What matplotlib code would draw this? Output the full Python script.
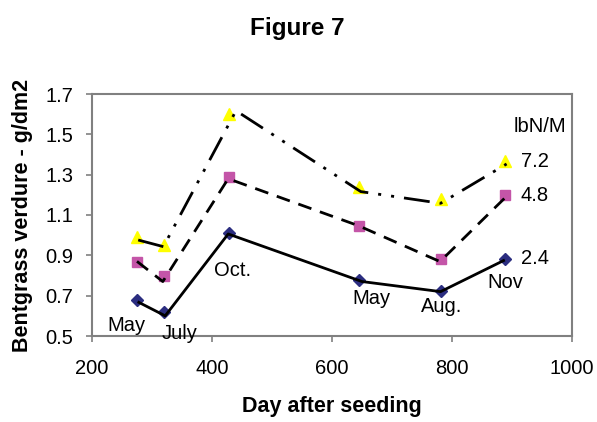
import matplotlib
matplotlib.use("Agg")
import matplotlib.pyplot as plt

plt.rcParams['font.family'] = ['Liberation Sans', 'DejaVu Sans']
plt.rcParams['lines.scale_dashes'] = False

# Observed values (markers)
days = [275, 320, 429, 645, 781, 889]
rate_24 = [0.68, 0.62, 1.01, 0.78, 0.725, 0.88]
rate_48 = [0.865, 0.80, 1.287, 1.047, 0.882, 1.20]
rate_72 = [0.99, 0.95, 1.60, 1.24, 1.178, 1.368]

# Connecting line series (drawn separately in the original)
line_days_24 = [276, 322, 427, 650, 781, 888]
line_24 = [0.67, 0.60, 1.006, 0.77, 0.72, 0.877]
line_days_48 = [275, 318, 427, 644, 780, 890]
line_48 = [0.87, 0.77, 1.28, 1.047, 0.869, 1.19]
line_days_72 = [277, 319, 440, 648, 781, 891]
line_72 = [0.976, 0.943, 1.617, 1.216, 1.158, 1.353]

month_labels = ["May", "July", "Oct.", "May", "Aug.", "Nov"]
month_pos = [(258, 0.55), (346, 0.514), (434, 0.827), (666, 0.687), (783, 0.645), (889, 0.766)]
series_labels = ["2.4", "4.8", "7.2"]
series_label_y = [0.885, 1.199, 1.364]
legend_title = "lbN/M"

fig = plt.figure(figsize=(5.97, 4.22), dpi=100)
ax = fig.add_axes([92/597, 1-336/422, (572-92)/597, (336-94)/422])

ax.plot(days, rate_24, linestyle='none', marker='D', markersize=6.5, color='#2B2D80', zorder=2)
ax.plot(days, rate_48, linestyle='none', marker='s', markersize=6.5, color='#C455A8', zorder=2)
ax.plot(days, rate_72, linestyle='none', marker='^', markersize=9, color='#FFFF00', zorder=2)

ax.plot(line_days_24, line_24, color='black', lw=2, solid_capstyle='butt', zorder=3)
l48, = ax.plot(line_days_48, line_48, color='black', lw=2, zorder=3)
l48.set_dashes((10, 6.5))
l48.set_dash_capstyle('butt')
l72, = ax.plot(line_days_72, line_72, color='black', lw=2, zorder=3)
l72.set_dashes((18.7, 7.2, 2.2, 7.2, 2.2, 7.2))
l72.set_dash_capstyle('butt')

fs = 14.5
for lab, (x, y) in zip(month_labels, month_pos):
    ax.text(x, y, lab, ha='center', va='center', fontsize=fs, zorder=4)
for lab, y in zip(series_labels, series_label_y):
    ax.text(938, y, lab, ha='center', va='center', fontsize=fs)
ax.text(947, 1.538, legend_title, ha='center', va='center', fontsize=fs)

ax.set_xlim(200, 1000)
ax.set_ylim(0.5, 1.7)
ax.set_xticks([200, 400, 600, 800, 1000])
ax.set_yticks([0.5, 0.7, 0.9, 1.1, 1.3, 1.5, 1.7])
ax.set_yticklabels(["0.5", "0.7", "0.9", "1.1", "1.3", "1.5", "1.7"])
ax.tick_params(axis='both', labelsize=fs, color='#808080', length=4.3, width=1.2, direction='out')
ax.tick_params(axis='x', pad=12)
ax.tick_params(axis='y', pad=9)
for s in ax.spines.values():
    s.set_color('#808080')
    s.set_linewidth(1.5)

ax.set_xlabel("Day after seeding", fontsize=15.5, fontweight='bold', labelpad=13)
ax.set_ylabel("Bentgrass verdure - g/dm2", fontsize=15.5, fontweight='bold', labelpad=9)
fig.text(297/597, 1-28/422, "Figure 7", ha='center', va='center', fontsize=17.5, fontweight='bold')

fig.savefig("out.png", dpi=100, facecolor='white')
